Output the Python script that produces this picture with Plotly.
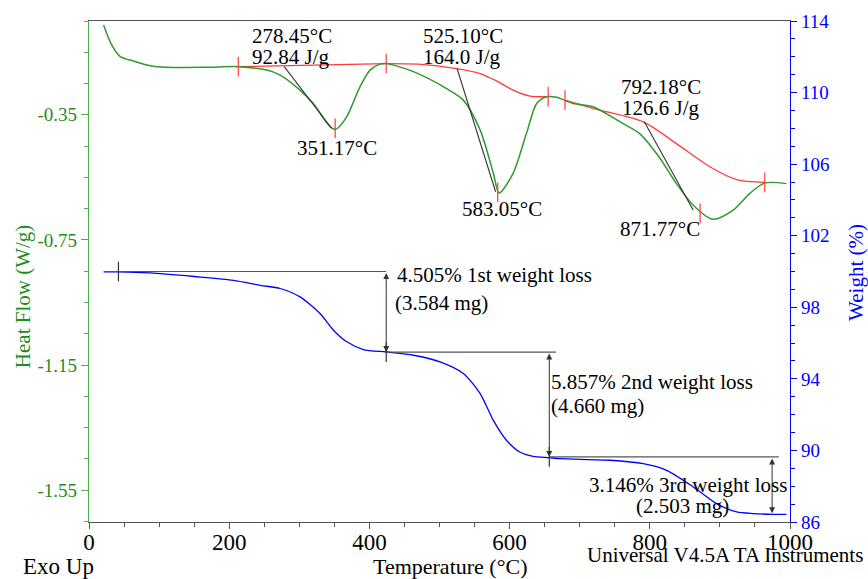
import plotly.graph_objects as go

FONT = "Liberation Serif, Times New Roman, serif"
GREEN = "#2e9b2e"
GREEN_TXT = "#1f8c1f"
RED = "#ff3b3b"
BLUE = "#0000ff"
DARK = "#333333"

# ---- DSC heat flow (W/g) ----------------------------------------------------
hf_temp = [20.8, 32, 44.6, 63.6, 87.4, 111, 168, 213, 253.7, 272.7, 301, 320,
           338, 346, 351, 357, 367.8, 386.7, 401, 415, 424, 462.7, 510, 534,
           558, 576.8, 585, 605, 624, 638.6, 653, 667, 690.8, 719, 757, 785.6,
           813, 838, 862, 890, 919, 942.7, 964, 995]
hf_val = [-0.063, -0.125, -0.164, -0.178, -0.193, -0.198, -0.198, -0.196,
          -0.207, -0.223, -0.271, -0.314, -0.372, -0.392, -0.397, -0.388,
          -0.356, -0.260, -0.207, -0.188, -0.186, -0.212, -0.266, -0.303,
          -0.399, -0.537, -0.600, -0.537, -0.410, -0.314, -0.292, -0.294,
          -0.314, -0.324, -0.372, -0.410, -0.484, -0.570, -0.639, -0.684,
          -0.655, -0.601, -0.568, -0.570]

# integration baselines (red)
base_temps = [
    [213, 424],
    [424, 470, 524, 558, 580, 605, 629, 655],
    [679, 720, 790, 838, 885.6, 924, 964],
]
base_vals = [
    [-0.196, -0.186],
    [-0.186, -0.188, -0.202, -0.218, -0.240, -0.271, -0.290, -0.292],
    [-0.303, -0.330, -0.372, -0.442, -0.516, -0.557, -0.566],
]
mark_temp = [213, 424, 655, 679, 964, 351.17, 583.05, 871.77]
mark_val = [-0.196, -0.186, -0.292, -0.303, -0.566, -0.393, -0.598, -0.665]

# onset tangent lines (black)
tan_temps = [[278.45, 346], [525.10, 580], [792.18, 862]]
tan_vals = [[-0.196, -0.393], [-0.202, -0.596], [-0.372, -0.655]]

# ---- TGA weight (%) ---------------------------------------------------------
w_temp = [20.8, 42, 87.4, 150, 206, 244.5, 272.7, 301, 329.6, 348.7, 367.8,
          391.4, 424, 462.7, 500.8, 534, 558, 576.8, 595.5, 614.6, 633.6,
          656.6, 672, 743.2, 790.6, 824, 862, 895, 924, 947.4, 976, 995]
w_val = [99.98, 99.98, 99.92, 99.72, 99.51, 99.23, 99.05, 98.58, 97.65, 96.72,
         96.07, 95.64, 95.50, 95.32, 94.95, 94.30, 93.18, 91.68, 90.57, 89.91,
         89.67, 89.60, 89.54, 89.45, 89.26, 88.89, 87.96, 87.03, 86.56, 86.47,
         86.43, 86.43]

# step lines and loss arrows
step_level = [100.0, 95.495, 89.638]
step_from = [42, 424, 656.6]
step_to = [424, 666, 984]
arrow_x = [424, 656.6, 974.5]
arrow_top = [100.0, 95.495, 89.638]
arrow_bot = [95.495, 89.638, 86.492]

# ---- text labels ------------------------------------------------------------
dsc_labels = [
    ("278.45°C", 230, -0.098, "left"),
    ("92.84 J/g", 230, -0.165, "left"),
    ("525.10°C", 474, -0.098, "left"),
    ("164.0 J/g", 474, -0.165, "left"),
    ("351.17°C", 354, -0.457, "center"),
    ("583.05°C", 589, -0.652, "center"),
    ("792.18°C", 816, -0.261, "center"),
    ("126.6 J/g", 816, -0.329, "center"),
    ("871.77°C", 815, -0.716, "center"),
]
tga_labels = [
    ("4.505% 1st weight loss", 437, 99.79, "left"),
    ("(3.584 mg)", 434, 98.23, "left"),
    ("5.857% 2nd weight loss", 656, 93.81, "left"),
    ("(4.660 mg)", 656, 92.47, "left"),
    ("3.146% 3rd weight loss", 854, 88.05, "center"),
    ("(2.503 mg)", 846, 86.87, "center"),
]

hf_tickvals = [-0.35, -0.75, -1.15, -1.55]
hf_ticktext = ["-0.35", "-0.75", "-1.15", "-1.55"]

fig = go.Figure()

fig.add_trace(go.Scatter(x=w_temp, y=w_val, yaxis="y2", mode="lines",
                         line=dict(color=BLUE, width=1.3, shape="spline", smoothing=0.7)))

for lv, x0, x1 in zip(step_level, step_from, step_to):
    fig.add_trace(go.Scatter(x=[x0, x1], y=[lv, lv], yaxis="y2", mode="lines",
                             line=dict(color="#555555", width=1.2)))
fig.add_trace(go.Scatter(x=step_from, y=step_level, yaxis="y2", mode="markers",
                         marker=dict(symbol="line-ns", size=14,
                                     line=dict(color=DARK, width=1.2))))

for tx, tv in zip(base_temps, base_vals):
    fig.add_trace(go.Scatter(x=tx, y=tv, mode="lines",
                             line=dict(color=RED, width=1.3, shape="spline", smoothing=0.8)))

fig.add_trace(go.Scatter(x=hf_temp, y=hf_val, mode="lines",
                         line=dict(color=GREEN, width=1.5, shape="spline", smoothing=0.8)))

for tx, tv in zip(tan_temps, tan_vals):
    fig.add_trace(go.Scatter(x=tx, y=tv, mode="lines",
                             line=dict(color=DARK, width=1.1)))

fig.add_trace(go.Scatter(x=mark_temp, y=mark_val, mode="markers",
                         marker=dict(symbol="line-ns", size=14,
                                     line=dict(color=RED, width=1.2))))

ann = []
for x, top, bot in zip(arrow_x, arrow_top, arrow_bot):
    ann.append(dict(x=x, y=bot, ax=x, ay=top, xref="x", yref="y2", axref="x", ayref="y2",
                    text="", showarrow=True, arrowhead=2, arrowside="end+start",
                    arrowsize=1.2, arrowwidth=1, arrowcolor=DARK, standoff=0, startstandoff=0))

for txt, x, y, al in dsc_labels:
    ann.append(dict(x=x, y=y, xref="x", yref="y", text=txt, showarrow=False,
                    xanchor=al, yanchor="middle",
                    font=dict(family=FONT, size=21, color="black")))
for txt, x, y, al in tga_labels:
    ann.append(dict(x=x, y=y, xref="x", yref="y2", text=txt, showarrow=False,
                    xanchor=al, yanchor="middle",
                    font=dict(family=FONT, size=21, color="black")))

# axis titles and footer texts
ann += [
    dict(x=-0.094, y=0.449, xref="paper", yref="paper", text="Heat Flow (W/g)",
         xanchor="center", yanchor="middle",
         textangle=-90, showarrow=False, font=dict(family=FONT, size=21, color=GREEN_TXT)),
    dict(x=1.094, y=0.499, xref="paper", yref="paper", text="Weight (%)",
         xanchor="center", yanchor="middle",
         textangle=-90, showarrow=False, font=dict(family=FONT, size=21, color=BLUE)),
    dict(x=-0.0434, y=-0.088, xref="paper", yref="paper", text="Exo Up",
         xanchor="center", yanchor="middle",
         showarrow=False, font=dict(family=FONT, size=23, color="black")),
    dict(x=0.515, y=-0.088, xref="paper", yref="paper", text="Temperature (°C)",
         xanchor="center", yanchor="middle",
         showarrow=False, font=dict(family=FONT, size=22, color="black")),
    dict(x=1.107, y=-0.066, xref="paper", yref="paper", text="Universal V4.5A TA Instruments",
         xanchor="right", yanchor="middle",
         showarrow=False, font=dict(family=FONT, size=21, color="black")),
]

fig.update_layout(
    width=868, height=579,
    margin=dict(l=89, r=78, t=21, b=57),
    paper_bgcolor="white", plot_bgcolor="white",
    showlegend=False,
    font=dict(family=FONT),
    annotations=ann,
    xaxis=dict(
        range=[0, 1000], tickmode="linear", tick0=0, dtick=200,
        showgrid=False, zeroline=False,
        showline=True, linecolor="#555555", linewidth=1.2, mirror=True,
        ticks="outside", ticklen=6, tickcolor="#555555",
        ticklabelstandoff=-7,
        tickfont=dict(family=FONT, size=23, color="black"),
        minor=dict(tickmode="linear", tick0=0, dtick=50, ticks="outside",
                   ticklen=4, tickcolor="#555555"),
    ),
    yaxis=dict(
        range=[-1.652, -0.05], tickmode="array",
        tickvals=hf_tickvals, ticktext=hf_ticktext,
        showgrid=False, zeroline=False,
        showline=True, linecolor="#4caf50", linewidth=1.3,
        ticks="outside", ticklen=7, tickcolor="#4caf50",
        tickfont=dict(family=FONT, size=19, color=GREEN_TXT),
        minor=dict(tickmode="linear", tick0=-0.05, dtick=0.1, ticks="outside",
                   ticklen=4, tickcolor="#4caf50"),
    ),
    yaxis2=dict(
        range=[86, 114], overlaying="y", side="right",
        tickmode="linear", tick0=86, dtick=4,
        showgrid=False, zeroline=False,
        showline=True, linecolor=BLUE, linewidth=1.2,
        ticks="outside", ticklen=6, tickcolor=BLUE,
        tickfont=dict(family=FONT, size=19, color=BLUE),
        minor=dict(tickmode="linear", tick0=86, dtick=1, ticks="outside",
                   ticklen=4, tickcolor=BLUE),
    ),
)

# the page body has a default 8 px margin; remove it so the figure fills the window
fig.write_html("out.html", config={"displayModeBar": False},
               post_script="document.body.style.margin='0';")
